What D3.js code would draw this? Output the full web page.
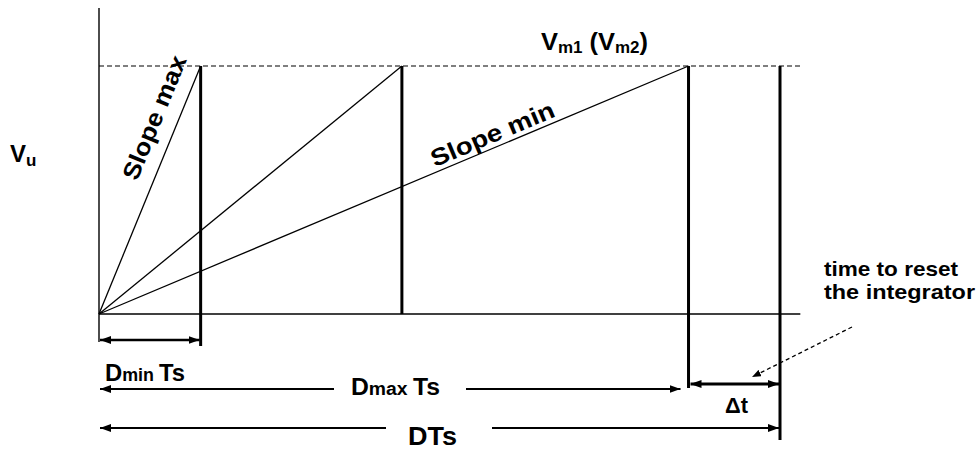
<!DOCTYPE html>
<html>
<head>
<meta charset="utf-8">
<script src="https://cdn.jsdelivr.net/npm/d3@7"></script>
<style>
  html, body { margin: 0; padding: 0; background: #fff; }
  svg { display: block; font-family: "Liberation Sans", Arial, sans-serif; font-weight: bold; }
</style>
</head>
<body>
<div id="chart"></div>
<script>
// times (in units of Dmin*Ts) where each ramp reaches the peak Vm
const rampEnds = [1, 2.98, 5.8]
const rampNames = ["Slope max", "", "Slope min"]
const resetEnd = 6.7        // DTs, end of the reset interval
const peakLevel = 1         // Vm1 (Vm2)
const axisTop = 1.234
const lineEnd = 6.9

drawDiagram("#chart")

function drawDiagram(id){
    const canvas = createCanvas()
    const svg = d3.select(id).append("svg").attr("width",canvas.width).attr("height",canvas.height)
    const sc = addScales(canvas)

    addMarkers(svg)
    addFrame(svg,sc)
    addRamps(svg,sc)
    addDrops(svg,sc)
    addDimensions(svg,sc)
    addLabels(svg,sc)
}

function createCanvas(){
    return { width: 977, height: 449, x0: 99, x1: 780, y0: 314, y1: 66 }
}

function addScales(canvas){
    const x = d3.scaleLinear().domain([0,resetEnd]).range([canvas.x0,canvas.x1])
    const y = d3.scaleLinear().domain([0,peakLevel]).range([canvas.y0,canvas.y1])
    return {x,y}
}

function addMarkers(svg){
    const defs = svg.append("defs")
    const mk = (name,len,half) => defs.append("marker").attr("id",name)
        .attr("viewBox",`0 ${-half} ${len} ${half*2}`).attr("refX",len).attr("refY",0)
        .attr("markerWidth",len).attr("markerHeight",half*2)
        .attr("markerUnits","userSpaceOnUse").attr("orient","auto-start-reverse")
        .append("path").attr("d",`M0,${-half}L${len},0L0,${half}Z`).attr("fill","#000")
    mk("head",11,4)
    mk("small",9,3.5)
}

function addFrame(svg,sc){
    // vertical axis
    svg.append("line").attr("x1",sc.x(0)).attr("x2",sc.x(0))
      .attr("y1",sc.y(axisTop)).attr("y2",sc.y(0)+28)
      .attr("stroke","#000").attr("stroke-width",1.4)
    // time axis
    svg.append("line").attr("x1",sc.x(0)).attr("x2",sc.x(lineEnd))
      .attr("y1",sc.y(0)).attr("y2",sc.y(0))
      .attr("stroke","#000").attr("stroke-width",1.3)
    // peak level
    svg.append("line").attr("x1",sc.x(0)).attr("x2",sc.x(lineEnd))
      .attr("y1",sc.y(peakLevel)).attr("y2",sc.y(peakLevel))
      .attr("stroke","#000").attr("stroke-width",1.2).attr("stroke-dasharray","5 3")
}

function addRamps(svg,sc){
    svg.selectAll("line.ramp").data(rampEnds).enter().append("line").attr("class","ramp")
      .attr("x1",sc.x(0)).attr("y1",sc.y(0))
      .attr("x2",d => sc.x(d)).attr("y2",sc.y(peakLevel))
      .attr("stroke","#000").attr("stroke-width",1.3)
}

function addDrops(svg,sc){
    const drops = [
        {t: rampEnds[0], bottom: 346},
        {t: rampEnds[1], bottom: sc.y(0)},
        {t: rampEnds[2], bottom: 388},
        {t: resetEnd, bottom: 440}
    ]
    svg.selectAll("line.drop").data(drops).enter().append("line").attr("class","drop")
      .attr("x1",d => sc.x(d.t)).attr("x2",d => sc.x(d.t))
      .attr("y1",sc.y(peakLevel)).attr("y2",d => d.bottom)
      .attr("stroke","#000").attr("stroke-width",3)
}

function arrow(svg,x1,x2,y,w,start,end){
    const l = svg.append("line").attr("x1",x1).attr("x2",x2).attr("y1",y).attr("y2",y)
      .attr("stroke","#000").attr("stroke-width",w)
    if(start) l.attr("marker-start","url(#head)")
    if(end) l.attr("marker-end","url(#head)")
}

function addDimensions(svg,sc){
    const x0 = sc.x(0) + 1
    // Dmin Ts
    arrow(svg,x0,sc.x(rampEnds[0]) - 1,340,2.6,true,true)
    // Dmax Ts
    arrow(svg,x0,334,389,2,true,false)
    arrow(svg,466,sc.x(rampEnds[2]) - 8,389,2,false,true)
    // DTs
    arrow(svg,x0,386,428,2,true,false)
    arrow(svg,492,sc.x(resetEnd) - 1,428,2,false,true)
    // delta t
    arrow(svg,sc.x(rampEnds[2]) + 2,sc.x(resetEnd) - 1,384,3.2,true,true)
    // pointer to the reset interval
    svg.append("line").attr("x1",852).attr("y1",327).attr("x2",752).attr("y2",377)
      .attr("stroke","#000").attr("stroke-width",1.3).attr("stroke-dasharray","4 3")
      .attr("marker-end","url(#small)")
}

function addLabels(svg,sc){
    // Vu
    const vu = svg.append("text").attr("x",10).attr("y",162).attr("font-size",24)
    vu.append("tspan").text("V")
    vu.append("tspan").attr("font-size",17).attr("dy",4).text("u")

    // Vm1 (Vm2)
    const vm = svg.append("text").attr("x",541).attr("y",50).attr("font-size",24)
      .attr("textLength",107).attr("lengthAdjust","spacingAndGlyphs")
    vm.append("tspan").text("V")
    vm.append("tspan").attr("font-size",16).attr("dy",3).text("m1")
    vm.append("tspan").attr("dy",-3).text(" (V")
    vm.append("tspan").attr("font-size",16).attr("dy",3).text("m2")
    vm.append("tspan").attr("dy",-3).text(")")

    // slope labels along the ramps
    const slopeCfg = [
        {i: 0, along: 0.51, off: 15, len: 132},
        {i: 2, along: 0.573, off: 5, len: 132}
    ]
    slopeCfg.forEach(c => {
        const t = rampEnds[c.i]
        const dx = sc.x(t) - sc.x(0), dy = sc.y(peakLevel) - sc.y(0)
        const ang = Math.atan2(dy,dx) * 180 / Math.PI
        const px = sc.x(0) + dx * c.along, py = sc.y(0) + dy * c.along
        svg.append("text").attr("transform",`translate(${px},${py}) rotate(${ang})`)
          .attr("y",-c.off).attr("font-size",24)
          .attr("textLength",c.len).attr("lengthAdjust","spacingAndGlyphs")
          .text(rampNames[c.i])
    })

    // Dmin Ts
    const dmin = svg.append("text").attr("x",105).attr("y",381).attr("font-size",24)
      .attr("textLength",80).attr("lengthAdjust","spacingAndGlyphs")
    dmin.append("tspan").text("D")
    dmin.append("tspan").attr("font-size",18).text("min ")
    dmin.append("tspan").text("Ts")

    // Dmax Ts
    const dmax = svg.append("text").attr("x",351).attr("y",395).attr("font-size",23)
      .attr("textLength",89).attr("lengthAdjust","spacingAndGlyphs")
    dmax.append("tspan").text("D")
    dmax.append("tspan").attr("font-size",18).text("max ")
    dmax.append("tspan").text("Ts")

    svg.append("text").attr("x",408).attr("y",445).attr("font-size",25)
      .attr("textLength",49).attr("lengthAdjust","spacingAndGlyphs").text("DTs")
    svg.append("text").attr("x",725).attr("y",413).attr("font-size",22)
      .attr("textLength",23).attr("lengthAdjust","spacingAndGlyphs").text("Δt")

    svg.append("text").attr("x",824).attr("y",276).attr("font-size",21)
      .attr("textLength",134).attr("lengthAdjust","spacingAndGlyphs").text("time to reset")
    svg.append("text").attr("x",824).attr("y",299).attr("font-size",21)
      .attr("textLength",151).attr("lengthAdjust","spacingAndGlyphs").text("the integrator")
}
</script>
</body>
</html>
